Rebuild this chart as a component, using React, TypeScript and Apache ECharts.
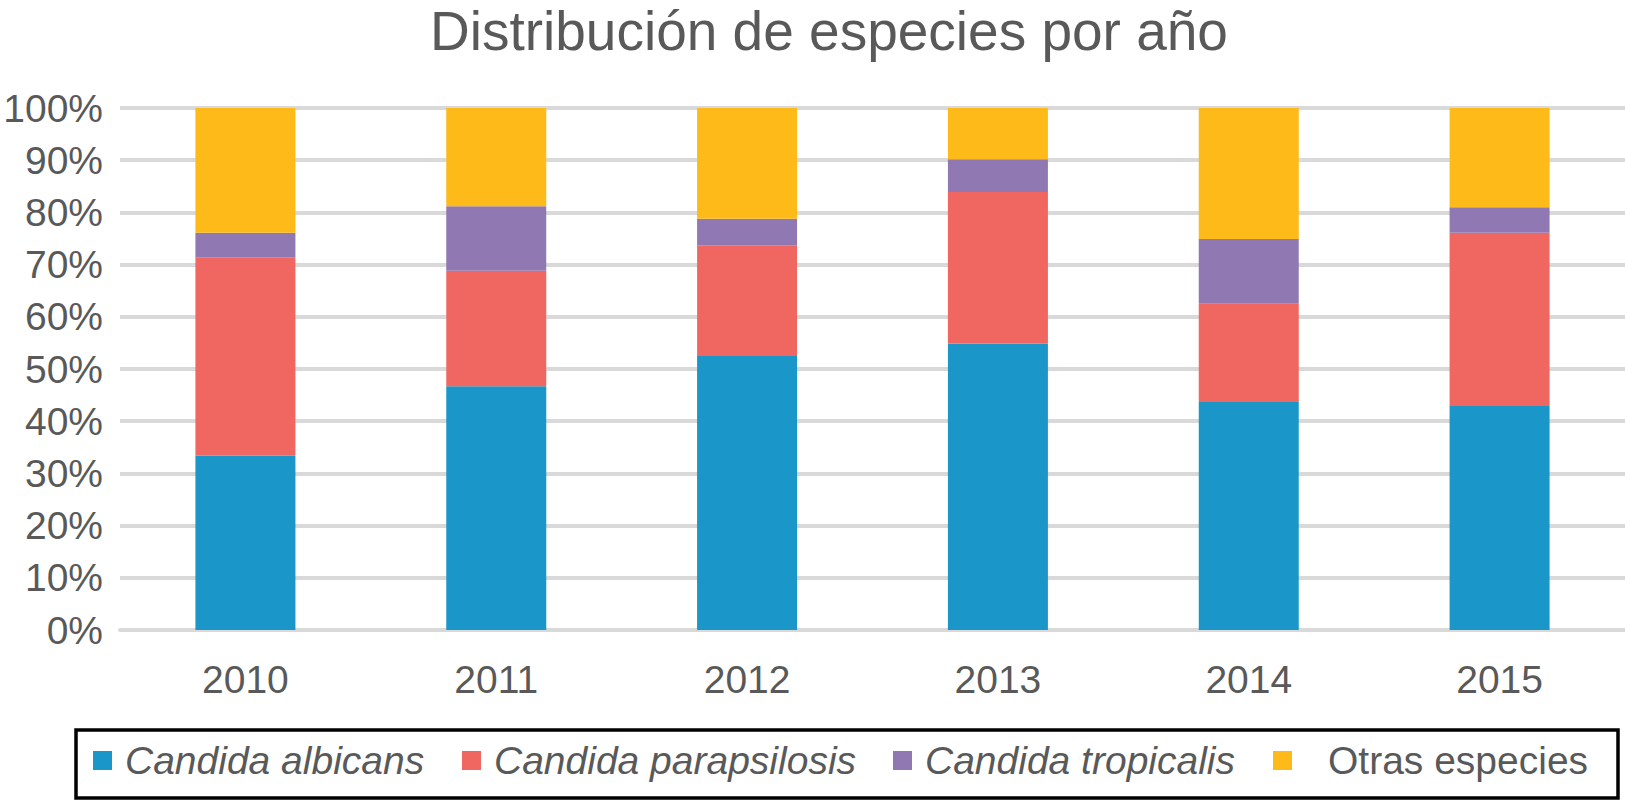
import React, { useEffect, useRef } from "react";
import * as echarts from "echarts";

const years = ["2010", "2011", "2012", "2013", "2014", "2015"];
const albicans = [33.4, 46.7, 52.5, 54.9, 43.7, 42.9];
const parapsilosis = [38.0, 22.1, 21.2, 29.0, 18.8, 33.2];
const tropicalis = [4.7, 12.4, 5.1, 6.3, 12.4, 4.9];
const otras = [23.9, 18.8, 21.2, 9.8, 25.1, 19.0];

const seriesNames = ["Candida albicans", "Candida parapsilosis", "Candida tropicalis", "Otras especies"];
const seriesColors = ["#1a96c9", "#ef6760", "#9078b3", "#fdba18"];
const seriesData = [albicans, parapsilosis, tropicalis, otras];
const legendLeft = [93, 462, 893, 1273];
const legendTextPad = [8, 8, 8, 31];

const FONT = "'Liberation Sans', Arial, Helvetica, sans-serif";
const GREY = "#595959";

export default function App() {
  const ref = useRef<HTMLDivElement>(null);
  useEffect(() => {
    if (!ref.current) return;
    const chart = echarts.init(ref.current, null, { renderer: "svg" });
    chart.setOption({
      animation: false,
      backgroundColor: "#ffffff",
      textStyle: { fontFamily: FONT },
      title: {
        text: "Distribución de especies por año",
        left: 430,
        top: 3,
        padding: 0,
        textStyle: { fontFamily: FONT, fontSize: 55, fontWeight: "normal", color: GREY },
      },
      grid: { left: 120, right: 0, top: 108, bottom: 172, containLabel: false },
      xAxis: {
        type: "category",
        data: years,
        axisLine: { show: true, lineStyle: { color: "#d9d9d9", width: 4 } },
        axisTick: { show: false },
        axisLabel: { color: GREY, fontSize: 39, fontFamily: FONT, margin: 30 },
      },
      yAxis: {
        type: "value",
        min: 0,
        max: 100,
        interval: 10,
        axisLine: { show: false },
        axisTick: { show: false },
        splitLine: { lineStyle: { color: "#d9d9d9", width: 4 } },
        axisLabel: { formatter: "{value}%", color: GREY, fontSize: 39, fontFamily: FONT, margin: 17 },
      },
      legend: seriesNames.map((n, i) => ({
        left: legendLeft[i],
        top: 741,
        padding: 0,
        itemWidth: 19,
        itemHeight: 19,
        icon: "rect",
        data: [n],
        textStyle: {
          fontSize: 39,
          color: GREY,
          fontFamily: FONT,
          fontStyle: i < 3 ? "italic" : "normal",
          padding: [0, 0, 0, legendTextPad[i]],
        },
      })),
      graphic: [
        {
          type: "rect",
          shape: { x: 76, y: 730, width: 1542, height: 68 },
          style: { fill: "none", stroke: "#000000", lineWidth: 3.5 },
          silent: true,
        },
      ],
      series: seriesNames.map((name, i) => ({
        name,
        type: "bar",
        stack: "total",
        barWidth: 100,
        data: seriesData[i],
        itemStyle: { color: seriesColors[i] },
      })),
    });
    return () => chart.dispose();
  }, []);
  return <div ref={ref} style={{ width: 1625, height: 802, position: "absolute", left: 0, top: 0 }} />;
}
